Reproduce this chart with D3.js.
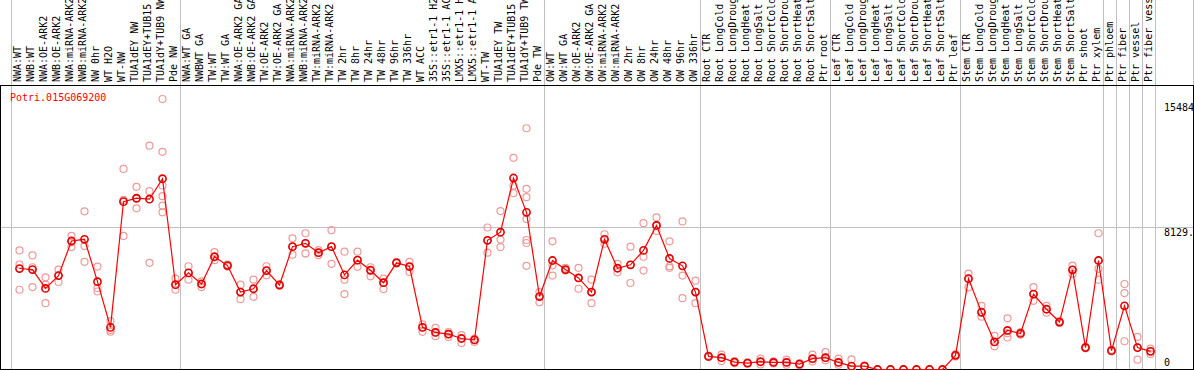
<!DOCTYPE html>
<html>
<head>
<meta charset="utf-8">
<script src="https://cdn.jsdelivr.net/npm/d3@7"></script>
<style>
  body { margin: 0; background: #fff; }
  svg { display: block; }
  text { font-family: "DejaVu Sans Mono", monospace; font-size: 10px; }
</style>
</head>
<body>
<svg width="1194" height="370"></svg>
<script>
var gene = "Potri.015G069200";

var samples = [
  "NWA:WT", "NWB:WT", "NWA:OE-ARK2", "NWB:OE-ARK2", "NWA:miRNA-ARK2", "NWB:miRNA-ARK2",
  "NW 0hr", "WT H2O", "WT-NW", "TUA1dEY NW", "TUA1dEY+TUB15", "TUA1dY+TUB9 NW", "Pde NW",
  "NWA:WT GA", "NWBWT GA", "TW:WT", "TW:WT GA", "NWA:OE-ARK2 GA", "NWB:OE-ARK2 GA",
  "TW:OE-ARK2", "TW:OE-ARK2 GA", "NWA:miRNA-ARK2", "NWB:miRNA-ARK2", "TW:miRNA-ARK2",
  "TW:miRNA-ARK2", "TW 2hr", "TW 8hr", "TW 24hr", "TW 48hr", "TW 96hr", "TW 336hr",
  "WT ACC", "35S::etr1-1 H2O", "35S::etr1-1 ACC", "LMX5::etr1-1 H2O", "LMX5::etr1-1 ACC",
  "WT-TW", "TUA1dEY TW", "TUA1dEY+TUB15", "TUA1dY+TUB9 TW", "Pde TW",
  "OW:WT", "OW:WT GA", "OW:OE-ARK2", "OW:OE-ARK2 GA", "OW:miRNA-ARK2", "OW:miRNA-ARK2",
  "OW 2hr", "OW 8hr", "OW 24hr", "OW 48hr", "OW 96hr", "OW 336hr",
  "Root CTR", "Root LongCold", "Root LongDrought", "Root LongHeat", "Root LongSalt",
  "Root ShortCold", "Root ShortDrought", "Root ShortHeat", "Root ShortSalt", "Ptr root",
  "Leaf CTR", "Leaf LongCold", "Leaf LongDrought", "Leaf LongHeat", "Leaf LongSalt",
  "Leaf ShortCold", "Leaf ShortDrought", "Leaf ShortHeat", "Leaf ShortSalt", "Ptr leaf",
  "Stem CTR", "Stem LongCold", "Stem LongDrought", "Stem LongHeat", "Stem LongSalt",
  "Stem ShortCold", "Stem ShortDrought", "Stem ShortHeat", "Stem ShortSalt", "Ptr shoot",
  "Ptr xylem", "Ptr phloem", "Ptr fiber", "Ptr vessel", "Ptr fiber vessel"
];

// number of samples in each block between the grey separators
var groupSizes = [13, 28, 12, 10, 10, 11, 1, 1, 1, 1];

var means = [
  5780, 5720, 4640, 5374, 7355, 7454, 5027, 2409, 9609, 9805, 9748, 10920, 4854,
  5530, 4894, 6454, 5951, 4432, 4622, 5662, 4836, 7032, 7223, 6685, 7032, 5414, 6258,
  5680, 4969, 6107, 5894, 2409, 2120, 2022, 1774, 1693, 7396, 7858, 10961, 8996, 4177,
  6240, 5720, 5241, 4432, 7454, 5795, 5992, 6818, 8245, 6356, 5934, 4432,
  751, 676, 422, 364, 445, 404, 404, 306, 618, 676,
  404, 191, 191, 0, 0, 0, 0, 0, 0, 809,
  5200, 3276, 1577, 2236, 2063, 4316, 3449, 2716, 5703, 1254, 6240,
  1080, 3640, 1254, 1040
];

var replicates = [
  [6818, 6009, 4565], [6529, 5853, 4721], [5275, 4854, 3796], [5720, 5374, 5010],
  [7644, 7280, 7009], [9054, 7066, 6165], [5894, 4663, 4466], [2773, 2256, 2160],
  [11481, 9707, 7644], [10458, 9765, 9227], [12810, 10210, 6107],
  [15484, 12463, 10533, 9921, 9378, 8996], [5200, 4854, 4565],
  [5911, 5530, 5142], [5044, 4894, 4721], [6720, 6454, 6258], [6009, 5951, 5894],
  [4854, 4432, 4027], [5142, 4622, 4160], [5911, 5662, 5390], [4876, 4836, 4796],
  [7511, 7032, 6570], [7800, 7223, 6645], [6835, 6685, 6547], [7974, 7032, 6049],
  [6743, 5142, 4316], [6743, 6258, 5876], [5853, 5680, 5333], [5200, 4969, 4605],
  [6165, 6107, 6067], [6165, 5894, 5587], [2583, 2409, 2155], [2386, 2120, 1907],
  [2138, 2022, 1866], [1965, 1774, 1520], [1774, 1693, 1577], [8129, 7396, 6685],
  [9071, 7436, 7009], [12116, 10533, 10094],
  [13809, 10343, 9863, 8609, 7413, 7240, 5934], [4432, 4177, 3854],
  [7338, 5951, 5374], [5818, 5680, 5660], [5818, 5241, 4622], [5142, 4432, 3796],
  [7743, 7454, 7205], [6049, 5795, 5564], [7032, 5992, 4952], [8378, 6454, 5662],
  [8707, 8245, 7933], [7338, 5911, 5818], [8476, 5374, 4085], [5085, 4432, 3796],
  [792, 751, 711], [849, 676, 480], [480, 422, 364], [404, 364, 329], [618, 445, 289],
  [462, 404, 347], [560, 404, 272], [364, 306, 248], [849, 618, 462], [1000, 676, 520],
  [618, 404, 272], [578, 0, 0], [220, 191, 160], [0, 0, 0], [0, 0, 0], [0, 0, 0],
  [0, 0, 0], [0, 0, 0], [0, 0, 0], [880, 809, 740],
  [5489, 5200, 4697], [3640, 3276, 3022], [1924, 1577, 1329], [2929, 2080, 1832],
  [2140, 2063, 1990], [4721, 4316, 3929], [3640, 3449, 3253], [2773, 2716, 2658],
  [5951, 5703, 5472], [1300, 1254, 1210], [7800, 6240, 5760, 5142],
  [1130, 1080, 1030], [4894, 4374, 1618], [1866, 1254, 560], [1196, 1040, 884]
];

var yMax = 15484, yMid = 8129;
var yLabels = ["15484", "8129.", "0"];

var svg = d3.select("svg"),
    width = +svg.attr("width"),
    height = +svg.attr("height");

var plotTop = 85.5, plotRight = 1193.5, plotBottom = 369.5;

var x = d3.scaleBand().domain(d3.range(samples.length)).range([13, 1157]);
var cx = function(i) { return x(i) + x.bandwidth() / 2; };
var y = d3.scaleLinear().domain([0, yMax]).range([369.5, 99]);

// grey separators between sample blocks
var seps = [0];
groupSizes.forEach(function(n) { seps.push(seps[seps.length - 1] + n); });
var sepX = function(d) { return Math.round(x.step() * d + 13 - 2.3) + 0.5; };

svg.append("g").selectAll("line").data(seps).enter().append("line")
    .attr("x1", sepX).attr("x2", sepX)
    .attr("y1", 0).attr("y2", height)
    .attr("stroke", "#c0c0c0");

svg.append("line")
    .attr("x1", plotRight).attr("x2", plotRight).attr("y1", 0).attr("y2", plotTop)
    .attr("stroke", "#c0c0c0");

// horizontal grid at mid value
svg.append("line")
    .attr("x1", 0).attr("x2", plotRight)
    .attr("y1", Math.round(y(yMid)) + 0.5).attr("y2", Math.round(y(yMid)) + 0.5)
    .attr("stroke", "#c0c0c0");

// frame
svg.append("rect")
    .attr("x", 0.5).attr("y", plotTop)
    .attr("width", plotRight - 0.5).attr("height", plotBottom - plotTop)
    .attr("fill", "none").attr("stroke", "#000");

// sample labels
svg.append("g").selectAll("text").data(samples).enter().append("text")
    .attr("transform", function(d, i) { return "translate(" + (cx(i) + 1.5) + ",82) rotate(-90)"; })
    .attr("fill", "#000")
    .text(function(d) { return d; });

// axis labels on the right
var yPos = [y(yMax) + 12, y(yMid) + 8.5, y(0) - 4];
svg.append("g").selectAll("text").data(yLabels).enter().append("text")
    .attr("x", 1164).attr("y", function(d, i) { return yPos[i]; })
    .attr("fill", "#000")
    .text(function(d) { return d; });

// replicate points
var repPts = [];
replicates.forEach(function(r, i) { r.forEach(function(v) { repPts.push({i: i, v: v}); }); });

svg.append("g").selectAll("circle").data(repPts).enter().append("circle")
    .attr("cx", function(d) { return cx(d.i); })
    .attr("cy", function(d) { return y(d.v); })
    .attr("r", 3.5)
    .attr("fill", "none")
    .attr("stroke", "#ee9a9a")
    .attr("stroke-width", 1.2);

// mean line
var line = d3.line()
    .x(function(d, i) { return cx(i); })
    .y(function(d) { return y(d); });

svg.append("path")
    .datum(means)
    .attr("d", line)
    .attr("fill", "none")
    .attr("stroke", "#ff0000")
    .attr("stroke-width", 1.2);

svg.append("g").selectAll("circle").data(means).enter().append("circle")
    .attr("cx", function(d, i) { return cx(i); })
    .attr("cy", function(d) { return y(d); })
    .attr("r", 3.6)
    .attr("fill", "none")
    .attr("stroke", "#e00000")
    .attr("stroke-width", 1.6);

svg.append("text")
    .attr("x", 10).attr("y", 101)
    .attr("fill", "#ff0000")
    .text(gene);
</script>
</body>
</html>
